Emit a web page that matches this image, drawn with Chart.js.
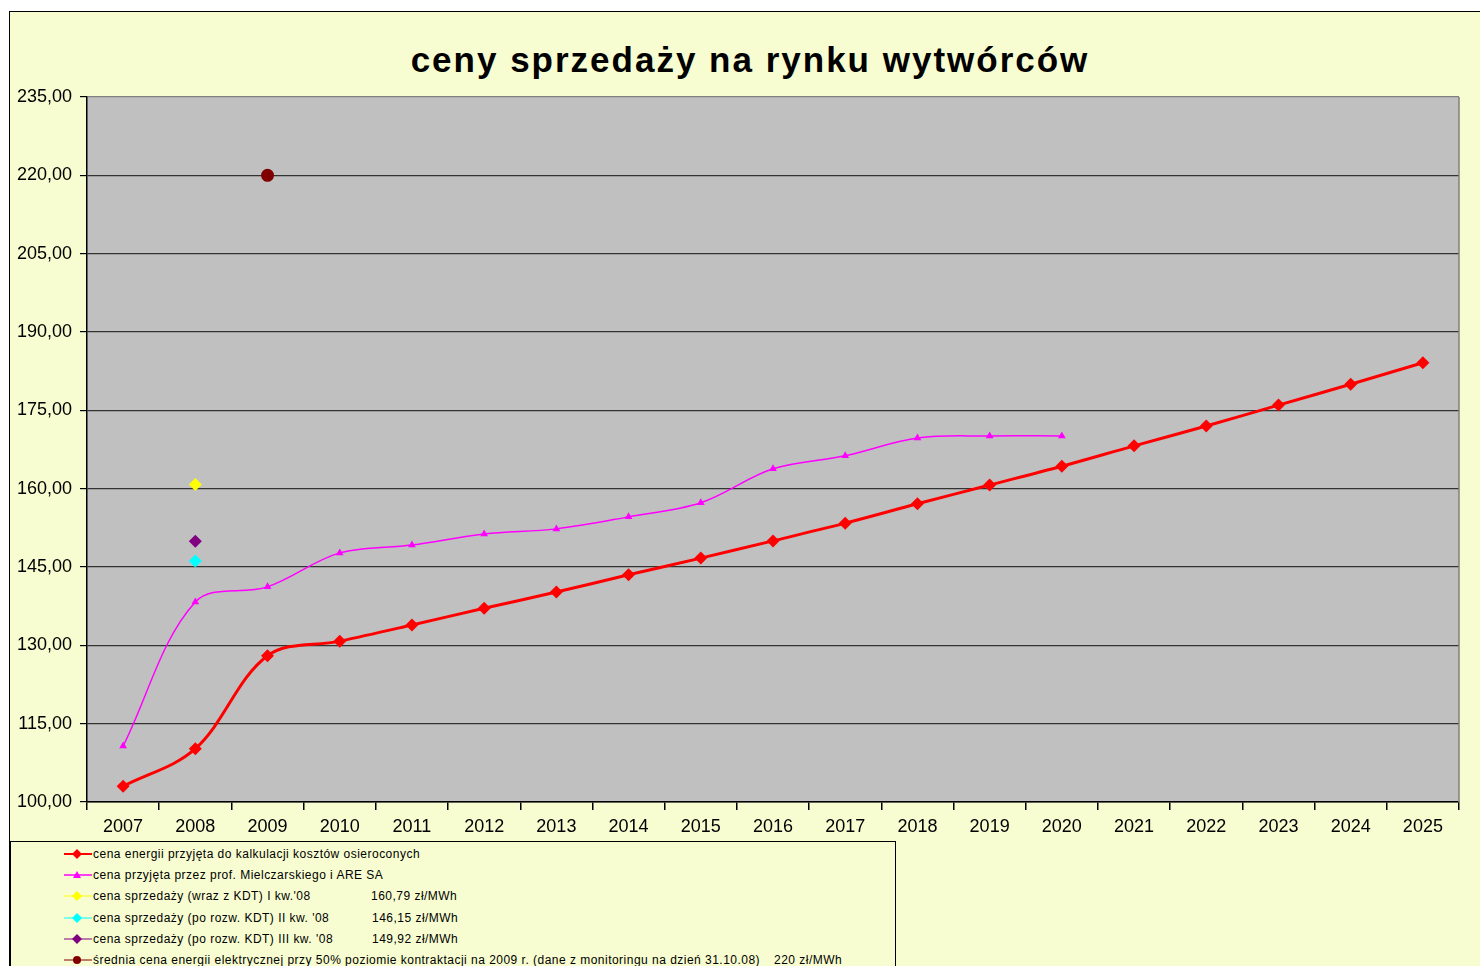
<!DOCTYPE html>
<html>
<head>
<meta charset="utf-8">
<script src="https://cdn.jsdelivr.net/npm/chart.js@4.4.1/dist/chart.umd.min.js"></script>
<style>
  html, body { margin:0; padding:0; background:#ffffff; width:1480px; height:966px; overflow:hidden; }
  #frame { position:absolute; left:9px; top:11px; width:1490px; height:980px; background:#F7FDD0; border-left:1.5px solid #000; border-top:1.5px solid #000; }
  #title { position:absolute; left:0; top:40px; width:1500px; text-align:center; font-family:"Liberation Sans", Arial, sans-serif; font-weight:bold; font-size:35px; letter-spacing:2px; color:#000; }
  #c { position:absolute; left:0; top:0; }
  #legend { position:absolute; left:10px; top:841px; width:884px; height:140px; background:#F7FDD0; border:1px solid #000; font-family:"Liberation Sans", Arial, sans-serif; font-size:12px; letter-spacing:0.48px; color:#000; }
  .row { position:absolute; left:0; height:14px; width:884px; }
  .row svg { position:absolute; left:53px; top:0; }
  .row .t { position:absolute; left:82px; top:0; white-space:nowrap; line-height:14px; }
  .row .v { position:absolute; top:0; white-space:nowrap; line-height:14px; }
</style>
</head>
<body>
<div id="frame"></div>
<div id="title">ceny sprzedaży na rynku wytwórców</div>
<canvas id="c" width="1480" height="966"></canvas>
<div id="legend"></div>
<script>
const years = ['2007','2008','2009','2010','2011','2012','2013','2014','2015','2016','2017','2018','2019','2020','2021','2022','2023','2024','2025'];
const costPrice = [103.0,110.2,128.0,130.8,133.9,137.1,140.2,143.5,146.7,150.0,153.4,157.1,160.7,164.3,168.2,172.0,176.0,180.0,184.1];
const mielczarskiPrice = [110.7,138.3,141.2,147.7,149.2,151.3,152.3,154.6,157.3,163.8,166.3,169.7,170.1,170.1];
const salesQ1 = [null,160.79];
const salesQ2 = [null,146.15];
const salesQ3 = [null,149.92];
const avg2009 = [null,null,220];
const yTicks = [100,115,130,145,160,175,190,205,220,235];

const labelsLegend = [
  {t:'cena energii przyjęta do kalkulacji kosztów osieroconych', v:'', c:'#FF0000', m:'diamond', line:'#FF0000', lw:2},
  {t:'cena przyjęta przez prof. Mielczarskiego i ARE SA', v:'', c:'#FF00FF', m:'triangle', line:'#FF00FF', lw:1.5},
  {t:'cena sprzedaży (wraz z KDT) I kw.\'08', v:'160,79 zł/MWh', vx:360, c:'#FFFF00', m:'diamond', line:'#FFFF00', lw:1},
  {t:'cena sprzedaży (po rozw. KDT) II kw. \'08', v:'146,15 zł/MWh', vx:361, c:'#00FFFF', m:'diamond', line:'#00FFFF', lw:1},
  {t:'cena sprzedaży (po rozw. KDT) III kw. \'08', v:'149,92 zł/MWh', vx:361, c:'#800080', m:'diamond', line:'#800080', lw:1},
  {t:'średnia cena energii elektrycznej przy 50% poziomie kontraktacji na 2009 r. (dane z monitoringu na dzień 31.10.08)', v:'220 zł/MWh', vx:763, c:'#800000', m:'circle', line:'#800000', lw:1}
];
const rowTops = [5, 26, 47, 69, 90, 111];
const leg = document.getElementById('legend');
labelsLegend.forEach((e,i)=>{
  const r = document.createElement('div');
  r.className='row'; r.style.top = rowTops[i]+'px';
  let marker='';
  if(e.m==='diamond') marker = `<polygon points="13,2 18,7 13,12 8,7" fill="${e.c}"/>`;
  else if(e.m==='triangle') marker = `<polygon points="13,3 17,10 9,10" fill="${e.c}"/>`;
  else marker = `<circle cx="13" cy="7" r="4" fill="${e.c}"/>`;
  r.innerHTML = `<svg width="30" height="14"><line x1="0" y1="7" x2="28" y2="7" stroke="${e.line}" stroke-width="${e.lw}"/>${marker}</svg><span class="t">${e.t}</span>` + (e.v?`<span class="v" style="left:${e.vx}px">${e.v}</span>`:'');
  leg.appendChild(r);
});

const plotBg = {
  id:'plotBg',
  beforeDraw(chart){
    const {ctx, chartArea:a} = chart;
    ctx.save(); ctx.fillStyle='#C0C0C0'; ctx.fillRect(a.left,a.top,a.right-a.left,a.bottom-a.top); ctx.restore();
  },
  beforeDatasetsDraw(chart){
    const {ctx, chartArea:a} = chart;
    ctx.save(); ctx.strokeStyle='#808080'; ctx.lineWidth=1.5;
    ctx.beginPath(); ctx.moveTo(a.right, a.top); ctx.lineTo(a.right, a.bottom); ctx.stroke();
    ctx.restore();
  }
};

new Chart(document.getElementById('c'), {
  type:'line',
  data:{
    labels: years,
    datasets:[
      {label:'cena energii przyjęta do kalkulacji kosztów osieroconych', data:costPrice, borderColor:'#FF0000', backgroundColor:'#FF0000', borderWidth:3, tension:0.35, pointStyle:'rectRot', pointRadius:6.5, pointBorderWidth:0},
      {label:'cena przyjęta przez prof. Mielczarskiego i ARE SA', data:mielczarskiPrice, borderColor:'#FF00FF', backgroundColor:'#FF00FF', borderWidth:1.5, tension:0.35, pointStyle:'triangle', pointRadius:4.5, pointBorderWidth:0},
      {label:'cena sprzedaży (wraz z KDT) I kw.\'08', data:salesQ1, showLine:false, backgroundColor:'#FFFF00', borderColor:'#FFFF00', pointStyle:'rectRot', pointRadius:6.5, pointBorderWidth:0},
      {label:'cena sprzedaży (po rozw. KDT) II kw. \'08', data:salesQ2, showLine:false, backgroundColor:'#00FFFF', borderColor:'#00FFFF', pointStyle:'rectRot', pointRadius:6.5, pointBorderWidth:0},
      {label:'cena sprzedaży (po rozw. KDT) III kw. \'08', data:salesQ3, showLine:false, backgroundColor:'#800080', borderColor:'#800080', pointStyle:'rectRot', pointRadius:6.5, pointBorderWidth:0},
      {label:'średnia cena energii elektrycznej', data:avg2009, showLine:false, backgroundColor:'#800000', borderColor:'#800000', pointStyle:'circle', pointRadius:6.5, pointBorderWidth:0}
    ]
  },
  options:{
    responsive:false, animation:false,
    layout:{padding:{left:0, top:97, right:21, bottom:126}},
    plugins:{legend:{display:false}, tooltip:{enabled:false}, title:{display:false}},
    scales:{
      x:{
        offset:true,
        grid:{offset:true, drawOnChartArea:false, drawTicks:true, tickLength:8, tickColor:'#000', lineWidth:1.5},
        border:{display:true, color:'#000', width:1.5},
        ticks:{color:'#000', font:{family:'"Liberation Sans", Arial, sans-serif', size:18}, padding:6, maxRotation:0, autoSkip:false},
        afterFit(s){ s.height = 38; }
      },
      y:{
        min:100, max:235,
        afterBuildTicks(s){ s.ticks = yTicks.map(v=>({value:v})); },
        grid:{color:(c)=> c.tick && c.tick.value===235 ? '#808080' : '#333333', lineWidth:1.2, tickLength:7, tickColor:'#000'},
        border:{display:true, color:'#000', width:1.5},
        ticks:{color:'#000', font:{family:'"Liberation Sans", Arial, sans-serif', size:18}, padding:8, callback:(v)=>v.toFixed(2).replace('.',',')},
        afterFit(s){ s.width = 87; }
      }
    }
  },
  plugins:[plotBg]
});
</script>
</body>
</html>
